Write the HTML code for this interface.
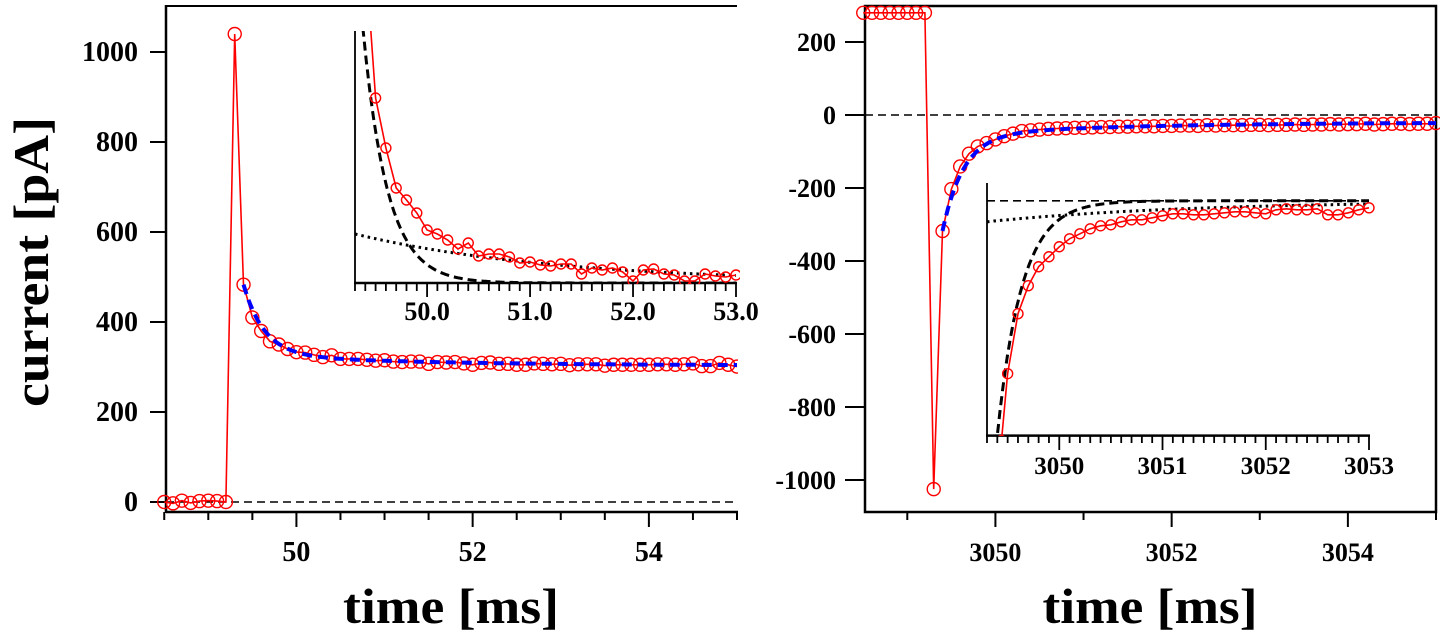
<!DOCTYPE html>
<html><head><meta charset="utf-8"><style>
html,body{margin:0;padding:0;background:#fff;}
svg{display:block;font-family:"Liberation Serif",serif;font-weight:bold;}
</style></head><body>
<svg id="c" width="1440" height="635" viewBox="0 0 1440 635" xmlns="http://www.w3.org/2000/svg">
<defs>
<clipPath id="clipL"><rect x="157" y="5" width="581" height="507"/></clipPath>
<clipPath id="clipR"><rect x="856" y="5" width="590" height="507"/></clipPath>
<clipPath id="clipLI"><rect x="355" y="31" width="385" height="253"/></clipPath>
<clipPath id="clipRI"><rect x="987" y="183" width="392" height="253"/></clipPath>
</defs>
</svg>
<script>
// ---- data ----
const leftT0 = 48.5, dt = 0.1;
const leftVals = [0,-3,3,-2,2,3,2,0,1040,483,410,380,357,350,340,333,332,327,322,326,318,318,318,316,314,315,312,311,312,312,307,311,310,311,308,305,309,310,307,307,305,305,308,307,306,307,304,306,306,306,303,305,305,305,305,305,306,306,305,306,308,302,302,309,305,301];
const rightT0 = 3048.5;
const rightVals = [280,280,280,280,280,280,280,280,-1025,-318,-203,-141,-106,-86,-77,-67,-58,-51,-44,-42,-40,-38,-37,-36,-35,-35,-34,-33,-33,-32,-32,-31,-31,-31,-30,-30,-29,-29,-30,-28,-29,-28,-28,-28,-27,-27,-28,-27,-27,-26,-27,-26,-26,-25,-26,-25,-25,-24,-26,-25,-24,-24,-25,-24,-24,-22];
const leftInsetT = [49.4,49.5,49.6,49.7,49.8,49.9,50.0,50.1,50.2,50.3,50.4,50.5,50.6,50.7,50.8,50.9,51.0,51.1,51.2,51.3,51.4,51.5,51.6,51.7,51.8,51.9,52.0,52.1,52.2,52.3,52.4,52.5,52.6,52.7,52.8,52.9,53.0];
const leftInsetVals = [330,185,135,95,83,70,53,49,43,34,40,27,29,29,26,20,21,18,17,19,19,9,15,13,15,11,2,13,14,9,8,2,2,9,7,6,8];
const rightInsetT = [3049.44,3049.5,3049.6,3049.7,3049.8,3049.9,3050.0,3050.1,3050.2,3050.3,3050.4,3050.5,3050.6,3050.7,3050.8,3050.9,3051.0,3051.1,3051.2,3051.3,3051.4,3051.5,3051.6,3051.7,3051.8,3051.9,3052.0,3052.1,3052.2,3052.3,3052.4,3052.5,3052.6,3052.7,3052.8,3052.9,3053.0];
const rightInsetVals = [-240,-173,-113,-85,-66,-56,-46,-38,-33,-28,-25,-24,-21,-19,-19,-17,-15,-13,-13,-14,-14,-13,-12,-11,-11,-12,-13,-9,-8,-9,-9,-8,-14,-14,-12,-9,-7];
// fit parameters: [offset, A1, tau1, A2, tau2, t0, tStart, tEnd]
const leftFit = [303, 238, 0.237, 25.2, 1.97, 49.3, 49.4, 55.0];
const rightFit = [-20, -400, 0.237, -37.4, 1.97, 3049.3, 3049.4, 3055.0];
const leftInsetFast = [353, 0.237, 49.3];
const leftInsetSlow = [49, 1.97, 49.3];
const rightInsetFast = [-358, 0.237, 3049.3];
const rightInsetSlow = [-21, 1.97, 3049.3];
const leftYTicks = [0,200,400,600,800,1000];
const rightYTicks = [200,0,-200,-400,-600,-800,-1000];
const leftXTicks = [50,52,54];
const rightXTicks = [3050,3052,3054];
const leftInsetTicks = ["50.0","51.0","52.0","53.0"];
const rightInsetTicks = ["3050","3051","3052","3053"];

const svg = document.getElementById('c');
const NS = 'http://www.w3.org/2000/svg';
function mk(tag, attrs, parent){
  const e = document.createElementNS(NS, tag);
  for (const k in attrs) e.setAttribute(k, attrs[k]);
  (parent||svg).appendChild(e);
  return e;
}
function lin(d0,d1,r0,r1){return v=>r0+(v-d0)*(r1-r0)/(d1-d0);}

const lx = lin(48.52,55.0,166,737), ly = lin(0,1000,502,52);
const rx = lin(3048.52,3055.0,865,1436), ry = lin(0,-1000,115,480);
const lix = lin(49.3,53.0,355,736), liy = lin(0,252,283,31);
const rix = lin(3049.3,3053.0,987,1369), riy = lin(0,-235,200.8,435.6);

function fitPts(p, fx, fy){
  const pts=[];
  for(let t=p[6]; t<=p[7]+1e-9; t+=0.02){
    const v=p[0]+p[1]*Math.exp(-(t-p[5])/p[2])+p[3]*Math.exp(-(t-p[5])/p[4]);
    pts.push(fx(t).toFixed(1)+','+fy(v).toFixed(1));
  }
  return pts.join(' ');
}
function expPts(p, t0, t1, fx, fy){
  const pts=[];
  for(let t=t0; t<=t1+1e-9; t+=0.01){
    const v=p[0]*Math.exp(-(t-p[2])/p[1]);
    pts.push(fx(t).toFixed(1)+','+fy(v).toFixed(1));
  }
  return pts.join(' ');
}
function series(ts, vals, fx, fy, r, clip, name){
  const g = mk('g',{'clip-path':'url(#'+clip+')'});
  
  
  const pts = ts.map((t,i)=>fx(t).toFixed(1)+','+fy(vals[i]).toFixed(1)).join(' ');
  const l = mk('polyline',{points:pts,fill:'none',stroke:'#f00','stroke-width':1.6},g);
  
  
  ts.forEach((t,i)=>{
    const c = mk('circle',{cx:fx(t),cy:fy(vals[i]),r:r,fill:'none',stroke:'#f00','stroke-width':1.4},g);
    
    
  });
  return g;
}
function text(x,y,s,size,anchor,name,extra){
  const t = mk('text',Object.assign({x:x,y:y,'font-size':size,'text-anchor':anchor||'middle',fill:'#000'},extra||{}));
  t.textContent = s;
  
  
  return t;
}
function line(x1,y1,x2,y2,w,name,dash){
  const a={x1:x1,y1:y1,x2:x2,y2:y2,stroke:'#000','stroke-width':w};
  if(dash) a['stroke-dasharray']=dash;
  const l = mk('line',a);
  
  
  return l;
}

// ===== LEFT PANEL =====
line(166,512,738,512,2.5,'left-x-axis');
line(166,5,166,513,2.5,'left-y-axis');
line(166,6,737,6,2,'left-top-frame');
leftYTicks.forEach(v=>{ line(150,ly(v),166,ly(v),2,'left-y-tick'); text(138,ly(v)+9,String(v),28,'end','left-y-tick-label'); });
for(let t=48.5;t<=55.01;t+=0.5){ const major=Math.abs(t-Math.round(t/2)*2)<1e-6; line(lx(t),512,lx(t),major?527:520,2,'left-x-tick'); }
leftXTicks.forEach(v=>text(lx(v),561,String(v),28,'middle','left-x-tick-label'));
line(166,ly(0),737,ly(0),1.6,'left-zero-line','8,5');
const lts = leftVals.map((v,i)=>leftT0+i*dt);
series(lts,leftVals,lx,ly,6.5,'clipL','left-data');
let bf = mk('polyline',{points:fitPts(leftFit,lx,ly),fill:'none',stroke:'#00f','stroke-width':4,'stroke-dasharray':'10,6'});


text(0,0,'current [pA]',50,'middle','y-axis-title',{transform:'translate(48,262) rotate(-90)',textLength:290,lengthAdjust:'spacingAndGlyphs'});
text(451,623,'time [ms]',50,'middle','left-x-axis-title',{textLength:216,lengthAdjust:'spacingAndGlyphs'});

// left inset
line(355,31,355,284,1.8,'left-inset-y-axis');
line(354,283,737,283,2.5,'left-inset-x-axis');
for(let k=0;k<=37;k++){ const t=49.3+k*0.1; const major=(k-7)%10===0; line(lix(t),283,lix(t),major?297:291,1.8,'left-inset-tick'); }
leftInsetTicks.forEach(s=>text(lix(parseFloat(s)),320,s,26,'middle','left-inset-tick-label'));
let lf = mk('polyline',{points:expPts(leftInsetFast,49.3,53.0,lix,liy),fill:'none',stroke:'#000','stroke-width':3,'stroke-dasharray':'9,5','clip-path':'url(#clipLI)'});


let ls = mk('polyline',{points:expPts(leftInsetSlow,49.3,53.0,lix,liy),fill:'none',stroke:'#000','stroke-width':3,'stroke-dasharray':'2.5,4'});


series(leftInsetT,leftInsetVals,lix,liy,5,'clipLI','left-inset-data');

// ===== RIGHT PANEL =====
const fr = mk('rect',{x:865,y:6,width:571,height:506,fill:'none',stroke:'#000','stroke-width':2.5});


rightYTicks.forEach(v=>{ line(845,ry(v),865,ry(v),2,'right-y-tick'); text(836,ry(v)+9,String(v),26,'end','right-y-tick-label'); });
for(let t=3049;t<=3055.01;t+=1){ const major=Math.round(t)%2===0; line(rx(t),512,rx(t),major?527:520,2,'right-x-tick'); }
rightXTicks.forEach(v=>text(rx(v),561,String(v),26,'middle','right-x-tick-label'));
line(865,ry(0),1436,ry(0),1.6,'right-zero-line','8,5');
const rts = rightVals.map((v,i)=>rightT0+i*dt);
series(rts,rightVals,rx,ry,6.5,'clipR','right-data');
let rf = mk('polyline',{points:fitPts(rightFit,rx,ry),fill:'none',stroke:'#00f','stroke-width':4,'stroke-dasharray':'10,6'});


text(1150,623,'time [ms]',50,'middle','right-x-axis-title',{textLength:215,lengthAdjust:'spacingAndGlyphs'});

// right inset
line(987,183,987,436,1.8,'right-inset-y-axis');
line(986,435.6,1370,435.6,2.5,'right-inset-x-axis');
for(let k=0;k<=37;k++){ const t=3049.3+k*0.1; const major=(k-7)%10===0; line(rix(t),435.6,rix(t),major?450:443,1.8,'right-inset-tick'); }
rightInsetTicks.forEach(s=>text(rix(parseFloat(s)),474,s,25,'middle','right-inset-tick-label'));
line(987,200.8,1369,200.8,1.6,'right-inset-zero-line','8,5');
let rif = mk('polyline',{points:expPts(rightInsetFast,3049.3,3053.0,rix,riy),fill:'none',stroke:'#000','stroke-width':3,'stroke-dasharray':'9,5','clip-path':'url(#clipRI)'});


let ris = mk('polyline',{points:expPts(rightInsetSlow,3049.3,3053.0,rix,riy),fill:'none',stroke:'#000','stroke-width':3,'stroke-dasharray':'2.5,4'});


series(rightInsetT,rightInsetVals,rix,riy,5,'clipRI','right-inset-data');
</script>
</body></html>
